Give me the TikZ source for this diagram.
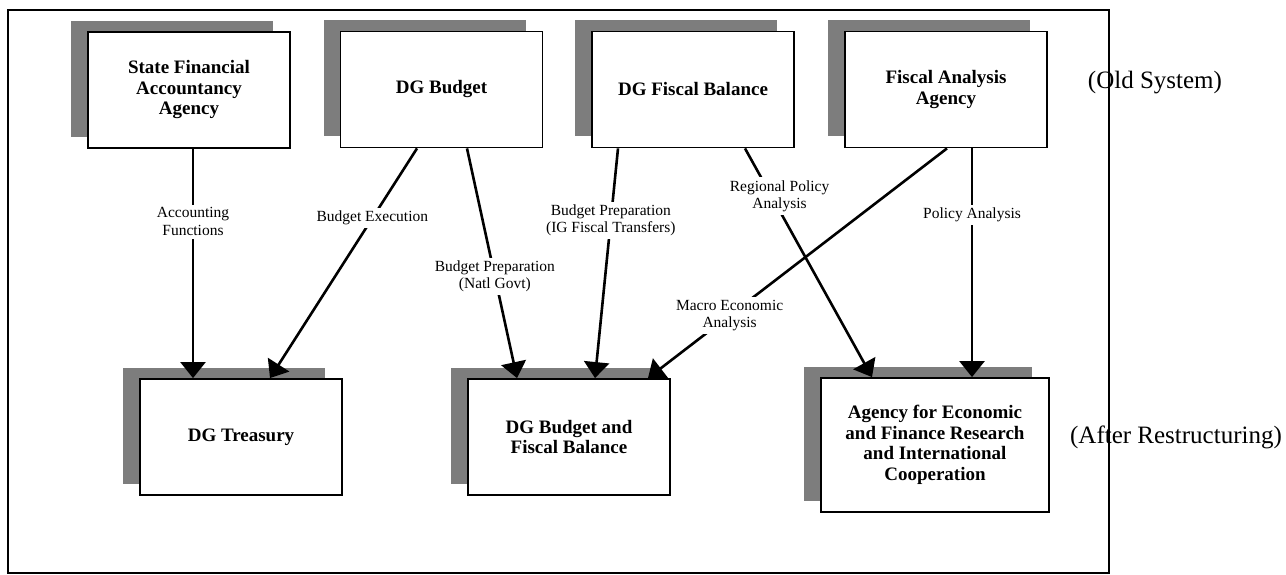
\documentclass[tikz,border=0pt]{standalone}
\usepackage{fontspec}
\setmainfont{Liberation Serif}
\usetikzlibrary{arrows.meta,shadows}
\definecolor{shade}{RGB}{125,125,125}
\begin{document}
\begin{tikzpicture}[x=1pt,y=-1pt,
  box/.style={draw=black, line width=1.8pt, fill=white, minimum width=202pt,
    minimum height=116pt, align=center, inner sep=0pt,
    font=\fontsize{19}{20.5}\selectfont\bfseries,
    drop shadow={shadow xshift=-17pt, shadow yshift=11pt, fill=shade, opacity=1}},
  lbl/.style={fill=white, font=\fontsize{15.5}{17.5}\selectfont, align=center, inner sep=3pt},
  side/.style={font=\fontsize{25}{30}\selectfont, inner sep=0pt},
  flow/.style={line width=2.6pt, -{Triangle[length=16pt,width=25pt]}}
]
\useasboundingbox (0,0) rectangle (1286,575);
\draw[line width=1.4pt] (8,10) rectangle (1109,573);

\node[box] (sfaa) at (189,90) {State Financial\\Accountancy\\Agency};
\node[box] (dgb)  at (441.5,89.5) {DG Budget};
\node[box] (dgfb) at (693,89.5) {DG Fiscal Balance};
\node[box] (faa)  at (946,89.5) {Fiscal Analysis\\Agency};

\node[box] (dgt)  at (241,437) {DG Treasury};
\node[box] (dgbf) at (569,437) {DG Budget and\\Fiscal Balance};
\node[box, minimum width=228pt, minimum height=134pt] (aef) at (935,445) {Agency for Economic\\and Finance Research\\and International\\Cooperation};

\node[side] (old) at (1155,83) {(Old System)};
\node[side] (after) at (1176,437) {(After Restructuring)};

\draw[flow] ([xshift=4pt]sfaa.south) -- node[lbl, pos=0.317] (l1) {Accounting\\Functions} ([xshift=-48pt]dgt.north);
\draw[flow] ([xshift=-24.5pt]dgb.south) -- node[lbl, pos=0.304] (l2) {Budget Execution} ([xshift=29pt]dgt.north);
\draw[flow] ([xshift=25.5pt]dgb.south) -- node[lbl, pos=0.557] (l3) {Budget Preparation\\(Natl Govt)} ([xshift=-52pt]dgbf.north);
\draw[flow] ([xshift=-75pt]dgfb.south) -- node[lbl, pos=0.313] (l4) {Budget Preparation\\(IG Fiscal Transfers)} ([xshift=26pt]dgbf.north);
\draw[flow] ([xshift=1pt]faa.south) -- node[lbl, pos=0.727] (l6) {Macro Economic\\Analysis} ([xshift=79pt]dgbf.north);
\draw[flow] ([xshift=52pt]dgfb.south) -- node[lbl, pos=0.209, xshift=8pt] (l5) {Regional Policy\\Analysis} ([xshift=-63pt]aef.north);
\draw[flow] ([xshift=26pt]faa.south) -- node[lbl, pos=0.291] (l7) {Policy Analysis} ([xshift=37pt]aef.north);
\end{tikzpicture}
\end{document}
